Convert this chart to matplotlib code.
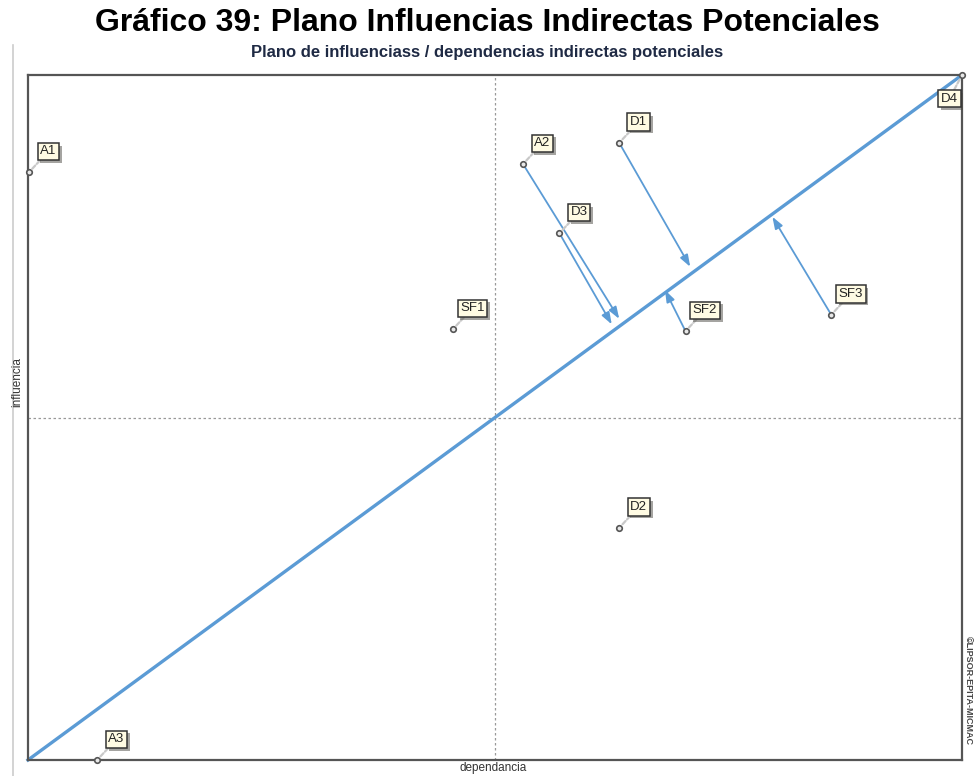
"""Plano de influencias / dependencias indirectas potenciales (MICMAC)."""

import matplotlib.pyplot as plt
from matplotlib.lines import Line2D
from matplotlib import patheffects

plt.rcParams["font.family"] = ["Liberation Sans", "DejaVu Sans"]

# Variable positions: dependence (x) and influence (y), scaled 0-100
labels = ["A1", "A2", "D1", "D3", "SF1", "SF2", "SF3", "D2", "A3", "D4"]
dependence = [0.1, 53.0, 63.3, 56.9, 45.5, 70.4, 86.0, 63.3, 7.4, 100.0]
influence = [85.8, 87.0, 90.1, 76.9, 62.9, 62.6, 65.0, 33.9, 0.0, 100.0]

# Displacement arrows: start variable and end position
arrow_from = ["A2", "D3", "D1", "SF2", "SF3"]
arrow_end_x = [63.3, 62.5, 70.9, 68.2, 79.7]
arrow_end_y = [64.4, 63.6, 72.0, 68.6, 79.3]

BLUE = "#5b9bd5"
FRAME = "#555555"

fig = plt.figure(figsize=(9.75, 7.76), dpi=100)
ax = fig.add_axes([28 / 975, 16 / 776, 934 / 975, 685 / 776])
ax.set_xlim(0, 100)
ax.set_ylim(0, 100)
ax.set_xticks([])
ax.set_yticks([])
for spine in ax.spines.values():
    spine.set_color(FRAME)
    spine.set_linewidth(1.6)

# quadrant guides
ax.axvline(50, color="#999999", linestyle=(0, (2, 2)), linewidth=0.9, zorder=1)
ax.axhline(50, color="#999999", linestyle=(0, (2, 2)), linewidth=0.9, zorder=1)

# diagonal
ax.plot([0, 100], [0, 100], color=BLUE, linewidth=2.4, zorder=2, clip_on=False)

pos = dict(zip(labels, zip(dependence, influence)))
for name, ex, ey in zip(arrow_from, arrow_end_x, arrow_end_y):
    sx, sy = pos[name]
    ax.annotate("", xy=(ex, ey), xytext=(sx, sy),
                arrowprops=dict(arrowstyle="-|>,head_length=0.7,head_width=0.25",
                                color=BLUE, linewidth=1.3, shrinkA=0, shrinkB=0),
                zorder=3)

ax.scatter(dependence, influence, s=16, facecolor="#e8e8e8", edgecolor="#555555",
           linewidth=1.2, zorder=5, clip_on=False)

for name, x, y in zip(labels, dependence, influence):
    off = (-9, -17) if name == "D4" else (14, 15)
    t = ax.annotate(name, xy=(x, y), xytext=off, textcoords="offset points",
                    ha="center", va="center", fontsize=9.5, color="#222222",
                    bbox=dict(boxstyle="square,pad=0.2", facecolor="#fffbe3",
                              edgecolor="#333333", linewidth=1.1),
                    arrowprops=dict(arrowstyle="-", color="#c8c8c8", linewidth=1.6,
                                    linestyle=(0, (2, 1)), shrinkA=0, shrinkB=3),
                    zorder=6, annotation_clip=False)
    t.get_bbox_patch().set_path_effects([
        patheffects.SimplePatchShadow(offset=(2, -2), alpha=0.5),
        patheffects.Normal(),
    ])

fig.text(0.5, 1 - 23 / 776, "Gráfico 39: Plano Influencias Indirectas Potenciales",
         ha="center", va="center", fontsize=23, fontweight="bold")
fig.text(0.5, 1 - 52 / 776, "Plano de influenciass / dependencias indirectas potenciales",
         ha="center", va="center", fontsize=12, fontweight="bold", color="#1f2a44")
fig.text(17 / 975, 1 - 382 / 776, "influencia", rotation=90, ha="center", va="center",
         fontsize=8.5, color="#333333")
fig.text(493 / 975, 1 - 768 / 776, "dependancia", ha="center", va="center",
         fontsize=8.5, color="#333333")
fig.text(968 / 975, 1 - 690 / 776, "©LIPSOR-EPITA-MICMAC", rotation=-90,
         ha="center", va="center", fontsize=6.5, fontweight="bold", color="#444444")

fig.add_artist(Line2D([13 / 975, 13 / 975], [0, 1 - 45 / 776],
                      color="#cccccc", linewidth=1.2))

fig.savefig("out.png", dpi=100)
